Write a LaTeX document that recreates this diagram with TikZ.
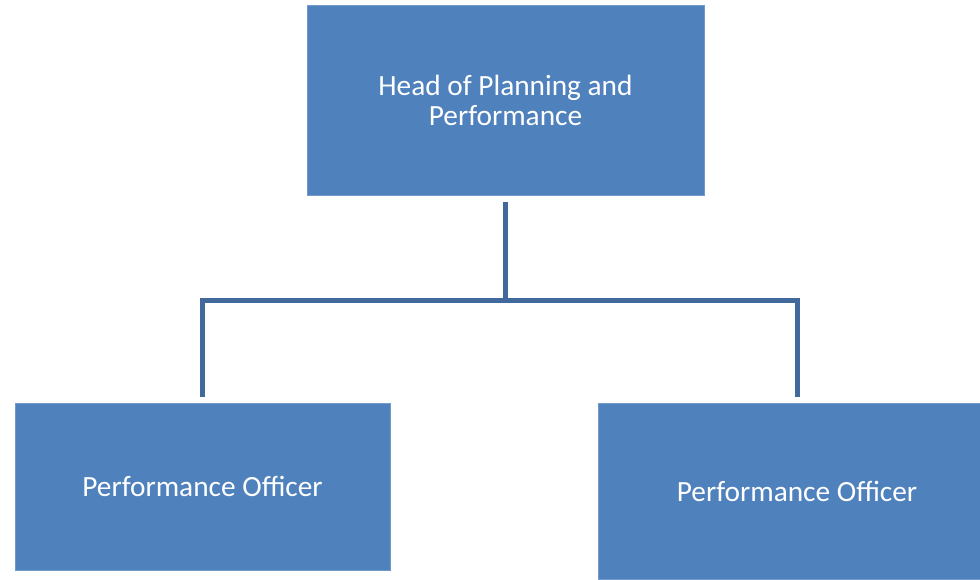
\documentclass[tikz,border=0pt]{standalone}
\usepackage{fontspec}
\setmainfont{Carlito}
\definecolor{boxblue}{HTML}{4F81BD}
\definecolor{lineblue}{HTML}{41699B}

\begin{document}
\begin{tikzpicture}[x=0.75pt,y=-0.75pt,
    post/.style={fill=boxblue,draw=boxblue!80!white,line width=0.4pt,inner sep=0pt,
                 text=white,align=center,font=\fontsize{22}{22.5}\selectfont},
    link/.style={lineblue,line width=3.75pt}]
            \useasboundingbox (0,0) rectangle (980,579);
            \node [post,minimum width=297.75pt,minimum height=142.5pt] (head) at (505.5,100) {Head of Planning and\\Performance};
            \node [post,minimum width=281.25pt,minimum height=125.25pt] (offl) at (202.5,486.5) {Performance Officer};
            \node [post,minimum width=298.5pt,minimum height=132pt] (offr) at (797,491) {Performance Officer};
            \coordinate (hub) at (505.5,300);
            \draw [link] ([yshift=-5pt]head.south) -- (hub);
            \draw [link] ([yshift=4.5pt]offl.north) |- (hub) -| ([yshift=4.5pt]offr.north);
        \end{tikzpicture}
\end{document}
